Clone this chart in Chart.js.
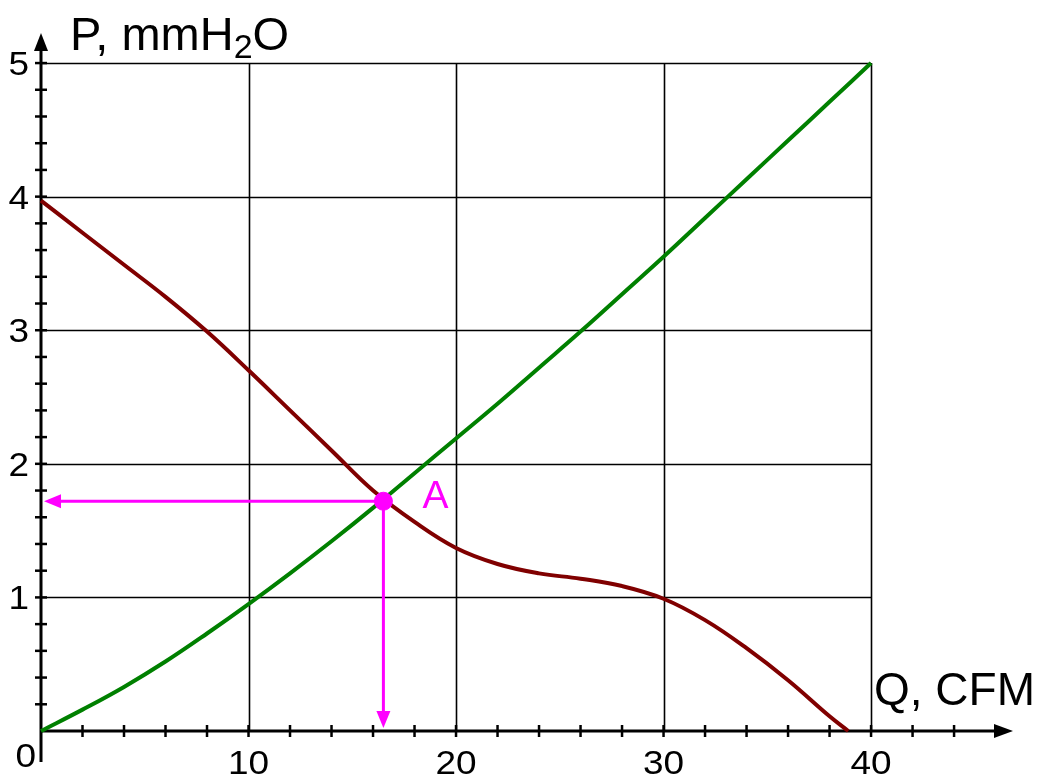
<!DOCTYPE html>
<html>
<head>
<meta charset="utf-8">
<script src="https://cdn.jsdelivr.net/npm/chart.js@4.4.1/dist/chart.umd.min.js"></script>
<style>
html,body{margin:0;padding:0;background:#fff;}
#wrap{width:1038px;height:775px;position:relative;}
</style>
</head>
<body>
<div id="wrap"><canvas id="c" width="1038" height="775"></canvas></div>
<script>
// ---- data ----
const fanQ      = [0, 2, 4, 6, 8, 10, 12, 14, 16, 18, 20, 22, 24, 26, 28, 30, 32, 34, 36, 38, 38.9];
const fanP      = [3.97, 3.73, 3.49, 3.25, 2.99, 2.70, 2.40, 2.10, 1.80, 1.565, 1.37, 1.25, 1.18, 1.14, 1.085, 0.99, 0.83, 0.62, 0.38, 0.11, 0];
const systemQ   = [0, 2, 4, 6, 8, 10, 12, 14, 16, 18, 20, 22, 24, 26, 28, 30, 32, 34, 36, 38, 40];
const systemP   = [0, 0.16, 0.33, 0.52, 0.73, 0.95, 1.18, 1.42, 1.67, 1.93, 2.19, 2.45, 2.72, 2.99, 3.27, 3.55, 3.84, 4.13, 4.42, 4.71, 5.0];
const pointA    = [16.5, 1.72];
const xGrid     = [10, 20, 30, 40];
const yGrid     = [1, 2, 3, 4, 5];
const xMinorTicks = [2,4,6,8,10,12,14,16,18,20,22,24,26,28,30,32,34,36,38,40,42,44];
const yMinorTicks = [0.2,0.4,0.6,0.8,1,1.2,1.4,1.6,1.8,2,2.2,2.4,2.6,2.8,3,3.2,3.4,3.6,3.8,4,4.2,4.4,4.6,4.8,5];
const xTickLabels = ["10", "20", "30", "40"];
const yTickLabels = ["1", "2", "3", "4", "5"];
const zeroLabel = "0";
const xTitle = "Q, CFM";
const yTitleMain = "P, mmH";
const yTitleSub = "2";
const yTitleEnd = "O";
const pointLabel = "A";

const FONT = '"Liberation Sans", Arial, sans-serif';
const MAGENTA = '#ff00ff';

function toXY(xs, ys){ return xs.map((x,i)=>({x:x, y:ys[i]})); }

function wideText(ctx, text, x, y, align, sxf){
  ctx.save();
  ctx.translate(x, y);
  ctx.scale(sxf, 1);
  ctx.textAlign = align;
  ctx.fillText(text, 0, 0);
  ctx.restore();
}

const drawPlugin = {
  id: 'custom',
  beforeDatasetsDraw(chart){
    const ctx = chart.ctx, sx = chart.scales.x, sy = chart.scales.y;
    const X = v=>sx.getPixelForValue(v), Y = v=>sy.getPixelForValue(v);
    ctx.save();
    // grid
    ctx.strokeStyle = '#000'; ctx.lineWidth = 1.6;
    xGrid.forEach(v=>{ ctx.beginPath(); ctx.moveTo(Math.round(X(v))+0.5, Y(0)); ctx.lineTo(Math.round(X(v))+0.5, Y(5)); ctx.stroke(); });
    yGrid.forEach(v=>{ ctx.beginPath(); ctx.moveTo(X(0), Math.round(Y(v))+0.5); ctx.lineTo(X(40), Math.round(Y(v))+0.5); ctx.stroke(); });
    // axes
    const x0 = X(0), y0 = Y(0);
    const xEnd = X(sx.max), yTop = Y(sy.max);
    ctx.lineWidth = 3;
    ctx.beginPath(); ctx.moveTo(x0, y0 + 31); ctx.lineTo(x0, yTop + 10); ctx.stroke();
    ctx.beginPath(); ctx.moveTo(x0, y0); ctx.lineTo(xEnd - 10, y0); ctx.stroke();
    ctx.fillStyle = '#000';
    ctx.beginPath(); ctx.moveTo(x0, yTop); ctx.lineTo(x0-7, yTop+18); ctx.lineTo(x0+7, yTop+18); ctx.closePath(); ctx.fill();
    ctx.beginPath(); ctx.moveTo(xEnd, y0); ctx.lineTo(xEnd-19, y0-7); ctx.lineTo(xEnd-19, y0+7); ctx.closePath(); ctx.fill();
    // ticks
    ctx.lineWidth = 2.5;
    yMinorTicks.forEach(v=>{ const yy = Y(v); ctx.beginPath(); ctx.moveTo(x0-6, yy); ctx.lineTo(x0+6, yy); ctx.stroke(); });
    xMinorTicks.forEach(v=>{ const xx = X(v); ctx.beginPath(); ctx.moveTo(xx, y0-6); ctx.lineTo(xx, y0+6); ctx.stroke(); });
    // magenta guides with arrows
    const ax = X(pointA[0]), ay = Y(pointA[1]);
    ctx.strokeStyle = MAGENTA; ctx.fillStyle = MAGENTA; ctx.lineWidth = 3;
    ctx.beginPath(); ctx.moveTo(ax, ay); ctx.lineTo(x0 + 18, ay); ctx.stroke();
    ctx.beginPath(); ctx.moveTo(x0 + 3, ay); ctx.lineTo(x0 + 20, ay - 7); ctx.lineTo(x0 + 20, ay + 7); ctx.closePath(); ctx.fill();
    ctx.beginPath(); ctx.moveTo(ax, ay); ctx.lineTo(ax, y0 - 18); ctx.stroke();
    ctx.beginPath(); ctx.moveTo(ax, y0 - 3); ctx.lineTo(ax - 7, y0 - 20); ctx.lineTo(ax + 7, y0 - 20); ctx.closePath(); ctx.fill();
    ctx.restore();
  },
  afterDatasetsDraw(chart){
    const ctx = chart.ctx, sx = chart.scales.x, sy = chart.scales.y;
    const X = v=>sx.getPixelForValue(v), Y = v=>sy.getPixelForValue(v);
    ctx.save();
    ctx.fillStyle = '#000';
    ctx.font = '33px ' + FONT;
    ctx.textBaseline = 'alphabetic';
    xGrid.forEach((v,i)=>wideText(ctx, xTickLabels[i], X(v), Y(0) + 43, 'center', 1.12));
    yGrid.forEach((v,i)=>wideText(ctx, yTickLabels[i], X(0) - 12, Y(v) + 12, 'right', 1.12));
    wideText(ctx, zeroLabel, X(0) - 5, Y(0) + 36, 'right', 1.12);
    // titles
    ctx.textAlign = 'left';
    ctx.font = '47px ' + FONT;
    let tx = 70, tb = 50;
    ctx.fillText(yTitleMain, tx, tb);
    tx += ctx.measureText(yTitleMain).width;
    ctx.font = '34px ' + FONT;
    ctx.fillText(yTitleSub, tx, tb + 8);
    tx += ctx.measureText(yTitleSub).width;
    ctx.font = '47px ' + FONT;
    ctx.fillText(yTitleEnd, tx, tb);
    ctx.font = '46px ' + FONT;
    ctx.fillText(xTitle, 874, 705);
    // point label
    ctx.fillStyle = MAGENTA;
    ctx.font = '39px ' + FONT;
    ctx.fillText(pointLabel, X(pointA[0]) + 39, Y(pointA[1]) + 7);
    ctx.restore();
  }
};

new Chart(document.getElementById('c'), {
  type: 'scatter',
  data: {
    datasets: [
      { data: [{x: pointA[0], y: pointA[1]}], showLine: false, pointRadius: 9, pointBackgroundColor: MAGENTA, pointBorderColor: MAGENTA, pointBorderWidth: 1, clip: false },
      { data: toXY(fanQ, fanP), showLine: true, borderColor: '#800000', borderWidth: 4, pointRadius: 0, tension: 0.4, clip: false },
      { data: toXY(systemQ, systemP), showLine: true, borderColor: '#008000', borderWidth: 4, pointRadius: 0, tension: 0.4, clip: false }
    ]
  },
  options: {
    responsive: false,
    animation: false,
    events: [],
    layout: { padding: { left: 41, right: 25, top: 33, bottom: 44 } },
    plugins: { legend: { display: false }, tooltip: { enabled: false } },
    scales: {
      x: { type: 'linear', min: 0, max: 46.84, display: false },
      y: { type: 'linear', min: 0, max: 5.225, display: false }
    }
  },
  plugins: [drawPlugin]
});
</script>
</body>
</html>
